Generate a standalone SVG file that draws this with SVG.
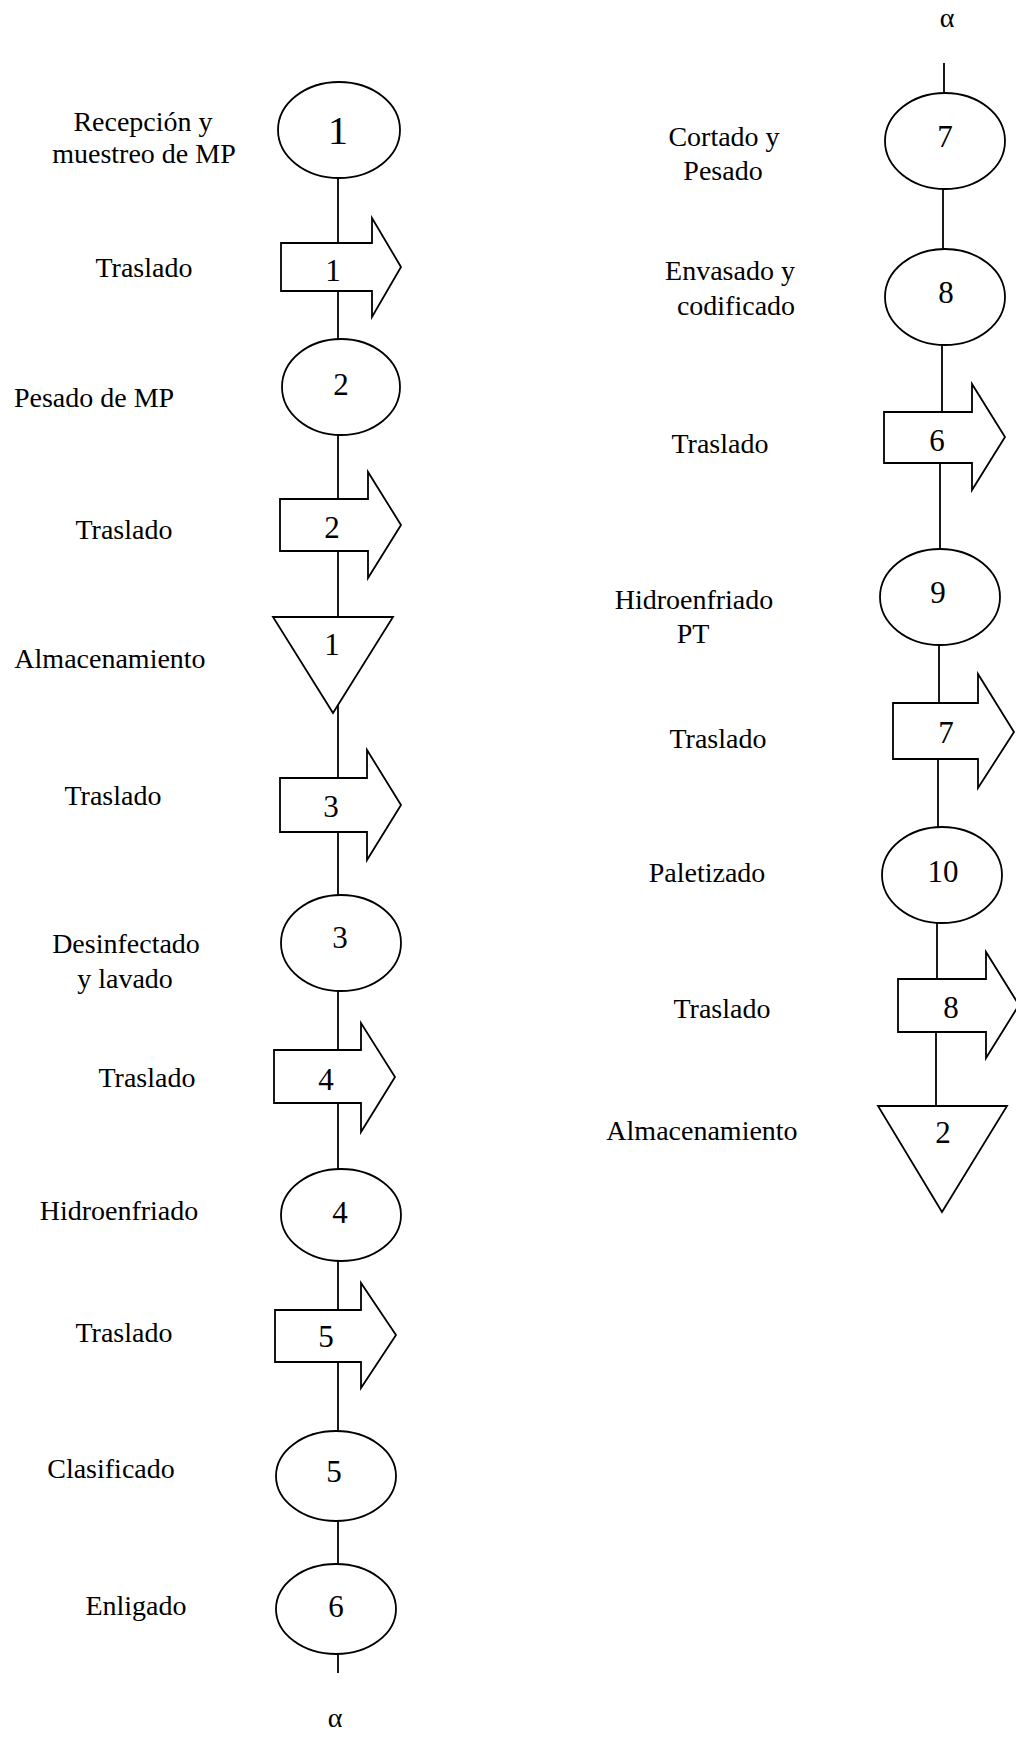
<svg xmlns="http://www.w3.org/2000/svg" width="1016" height="1763" viewBox="0 0 1016 1763">
<style>
.s{fill:#fff;stroke:#000;stroke-width:1.8}
.c line{stroke:#000;stroke-width:1.8}
text{font-family:"Liberation Serif","Times New Roman",serif;font-size:28px;fill:#000;text-anchor:middle}
.n{font-size:31px}
.big{font-size:40px}
</style>
<rect width="1016" height="1763" fill="#fff"/>
<g id="connectors" class="c">
<line x1="338" y1="178" x2="338" y2="243"/>
<line x1="338" y1="291" x2="338" y2="339"/>
<line x1="338" y1="435" x2="338" y2="499"/>
<line x1="338" y1="551" x2="338" y2="617"/>
<line x1="338" y1="704" x2="338" y2="778"/>
<line x1="338" y1="832" x2="338" y2="895"/>
<line x1="338" y1="991" x2="338" y2="1050"/>
<line x1="338" y1="1103" x2="338" y2="1169"/>
<line x1="338" y1="1261" x2="338" y2="1310"/>
<line x1="338" y1="1362" x2="338" y2="1431"/>
<line x1="338" y1="1521" x2="338" y2="1564"/>
<line x1="338" y1="1654" x2="338" y2="1673"/>
<line x1="944" y1="63" x2="944" y2="93"/>
<line x1="943" y1="189" x2="943" y2="249"/>
<line x1="942" y1="345" x2="942" y2="412"/>
<line x1="940" y1="463" x2="940" y2="549"/>
<line x1="939" y1="645" x2="939" y2="703"/>
<line x1="938" y1="759" x2="938" y2="827"/>
<line x1="937" y1="923" x2="937" y2="979"/>
<line x1="936" y1="1032" x2="936" y2="1106"/>
</g>
<g id="alpha-left"><text x="335" y="1727">α</text></g>
<g id="alpha-right"><text x="947" y="27">α</text></g>

<g id="op1"><ellipse class="s" cx="339" cy="130" rx="61" ry="48"/><text class="big" x="338" y="144">1</text>
<text x="143" y="131">Recepción y</text><text x="144" y="163">muestreo de MP</text></g>
<g id="tr1"><path class="s" d="M281,243 H372 V218 L401,267 L372,317 V291 H281 Z"/><text class="n" x="333" y="281">1</text><text x="144" y="277">Traslado</text></g>
<g id="op2"><ellipse class="s" cx="341" cy="387" rx="59" ry="48"/><text class="n" x="341" y="395">2</text><text x="94" y="407">Pesado de MP</text></g>
<g id="tr2"><path class="s" d="M280,499 H368 V472 L401,525 L368,578 V551 H280 Z"/><text class="n" x="332" y="538">2</text><text x="124" y="539">Traslado</text></g>
<g id="st1"><polygon class="s" points="273,617 393,617 333,713"/><text class="n" x="332" y="655">1</text><text x="110" y="668">Almacenamiento</text></g>
<g id="tr3"><path class="s" d="M280,778 H367 V750 L401,805 L367,860 V832 H280 Z"/><text class="n" x="331" y="817">3</text><text x="113" y="805">Traslado</text></g>
<g id="op3"><ellipse class="s" cx="341" cy="943" rx="60" ry="48"/><text class="n" x="340" y="948">3</text><text x="126" y="953">Desinfectado</text><text x="125" y="988">y lavado</text></g>
<g id="tr4"><path class="s" d="M274,1050 H361 V1023 L395,1077 L361,1132 V1103 H274 Z"/><text class="n" x="326" y="1090">4</text><text x="147" y="1087">Traslado</text></g>
<g id="op4"><ellipse class="s" cx="341" cy="1215" rx="60" ry="46"/><text class="n" x="340" y="1223">4</text><text x="119" y="1220">Hidroenfriado</text></g>
<g id="tr5"><path class="s" d="M275,1310 H361 V1283 L396,1335 L361,1388 V1362 H275 Z"/><text class="n" x="326" y="1347">5</text><text x="124" y="1342">Traslado</text></g>
<g id="op5"><ellipse class="s" cx="336" cy="1476" rx="60" ry="45"/><text class="n" x="334" y="1482">5</text><text x="111" y="1478">Clasificado</text></g>
<g id="op6"><ellipse class="s" cx="336" cy="1609" rx="60" ry="45"/><text class="n" x="336" y="1617">6</text><text x="136" y="1615">Enligado</text></g>

<g id="op7"><ellipse class="s" cx="945" cy="141" rx="60" ry="48"/><text class="n" x="945" y="147">7</text><text x="724" y="146">Cortado y</text><text x="723" y="180">Pesado</text></g>
<g id="op8"><ellipse class="s" cx="945" cy="297" rx="60" ry="48"/><text class="n" x="946" y="303">8</text><text x="730" y="280">Envasado y</text><text x="736" y="315">codificado</text></g>
<g id="tr6"><path class="s" d="M884,412 H972 V384 L1005,437 L972,490 V463 H884 Z"/><text class="n" x="937" y="451">6</text><text x="720" y="453">Traslado</text></g>
<g id="op9"><ellipse class="s" cx="940" cy="597" rx="60" ry="48"/><text class="n" x="938" y="603">9</text><text x="694" y="609">Hidroenfriado</text><text x="693" y="643">PT</text></g>
<g id="tr7"><path class="s" d="M893,703 H978 V674 L1014,732 L978,788 V759 H893 Z"/><text class="n" x="946" y="743">7</text><text x="718" y="748">Traslado</text></g>
<g id="op10"><ellipse class="s" cx="942" cy="875" rx="60" ry="48"/><text class="n" x="943" y="882">10</text><text x="707" y="882">Paletizado</text></g>
<g id="tr8"><path class="s" d="M898,979 H986 V952 L1019,1005 L986,1058 V1032 H898 Z"/><text class="n" x="951" y="1018">8</text><text x="722" y="1018">Traslado</text></g>
<g id="st2"><polygon class="s" points="878,1106 1007,1106 942,1212"/><text class="n" x="943" y="1143">2</text><text x="702" y="1140">Almacenamiento</text></g>
</svg>
